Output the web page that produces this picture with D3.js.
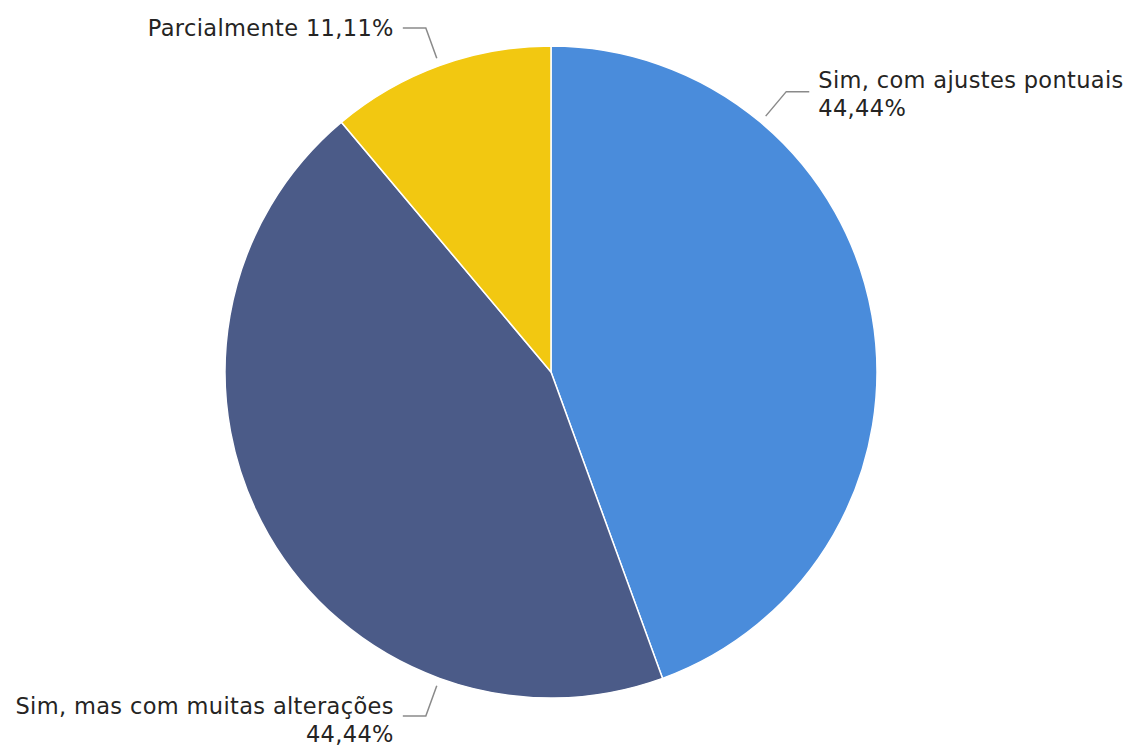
<!DOCTYPE html>
<html>
<head>
<meta charset="utf-8">
<script src="https://cdn.jsdelivr.net/npm/d3@7"></script>
<style>
  html, body { margin: 0; padding: 0; background: #ffffff; }
  svg { display: block; }
  text { font-family: "DejaVu Sans", "Roboto", sans-serif; fill: #252423; letter-spacing: 0.35px; }
</style>
</head>
<body>
<svg id="chart" width="1128" height="746"></svg>
<script>
// Response categories and their shares (%)
const categories = ["Sim, com ajustes pontuais", "Sim, mas com muitas alterações", "Parcialmente"];
const values = [44.44, 44.44, 11.11];
const valueLabels = ["44,44%", "44,44%", "11,11%"];
const colors = ["#4A8CDB", "#4B5B88", "#F2C811"];

const W = 1128, H = 746;
const cx = 551, cy = 372, R = 326;

const svg = d3.select("#chart");
const g = svg.append("g").attr("transform", `translate(${cx},${cy})`);

const pie = d3.pie().sort(null).value(d => d.value);
const data = categories.map((c, i) => ({ name: c, value: values[i], label: valueLabels[i], color: colors[i] }));
const arcs = pie(data);

const arc = d3.arc().innerRadius(0).outerRadius(R);

g.selectAll("path.slice")
  .data(arcs)
  .join("path")
  .attr("class", "slice")
  .attr("d", arc)
  .attr("fill", d => d.data.color)
  .attr("stroke", "#ffffff")
  .attr("stroke-width", 1.5);

// Leader lines: angle offset from each slice's mid-angle so labels clear the corners
const leaderShift = [-40, -40, 0]; // degrees
const pt = (a, r) => [r * Math.sin(a), -r * Math.cos(a)];

arcs.forEach((d, i) => {
  const mid = (d.startAngle + d.endAngle) / 2 + leaderShift[i] * Math.PI / 180;
  const right = Math.sin(mid) > 0;
  const p0 = pt(mid, R + 8);
  const p1 = pt(mid, R + 40);
  const p2 = [p1[0] + (right ? 23 : -23), p1[1]];
  g.append("polyline")
    .attr("points", [p0, p1, p2].map(p => p.join(",")).join(" "))
    .attr("fill", "none")
    .attr("stroke", "#8a8a8a")
    .attr("stroke-width", 1.5);

  const tx = p2[0] + (right ? 9 : -9);
  const anchor = right ? "start" : "end";
  const t = g.append("text")
    .attr("text-anchor", anchor)
    .style("font-size", "22.5px");
  if (d.data.value < 20) {
    t.attr("x", tx).attr("y", p2[1] + 8).text(`${d.data.name} ${d.data.label}`);
  } else {
    const y0 = right ? p2[1] - 4 : p2[1] - 2;
    t.append("tspan").attr("x", tx).attr("y", y0).text(d.data.name);
    t.append("tspan").attr("x", tx).attr("y", y0 + 28).text(d.data.label);
  }
});
</script>
</body>
</html>
